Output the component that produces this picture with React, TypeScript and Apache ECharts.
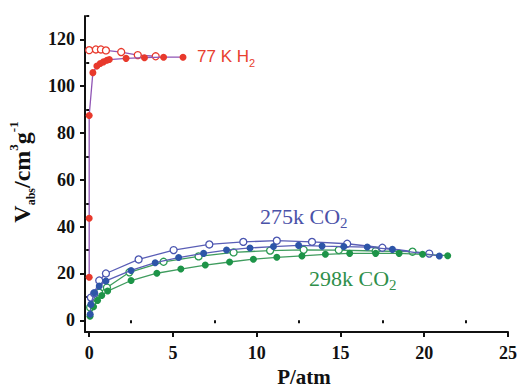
import React, { useEffect, useRef } from "react";
import * as echarts from "echarts";

// 77 K H2 adsorption (filled) / desorption (open)
const h2AdsX = [0, 0, 0, 0.22, 0.46, 0.66, 0.85, 1.06, 1.2, 2.2, 3.3, 4.44, 5.6];
const h2AdsY = [18.4, 43.6, 87.5, 105.8, 108.6, 109.7, 110.4, 111.1, 111.4, 111.9, 112.2, 112.4, 112.4];
const h2DesX = [0, 0.4, 0.7, 1.0, 1.91, 2.9, 3.97];
const h2DesY = [115.4, 115.7, 115.7, 115.3, 114.6, 113.3, 112.8];

// 275 K CO2
const c275AdsX = [0.06, 0.1, 0.3, 0.6, 1.0, 2.5, 3.94, 5.34, 6.83, 8.2, 9.6, 11.0, 12.5, 13.9, 15.2, 16.6, 18.1, 20.9];
const c275AdsY = [2.6, 6.8, 11.8, 14.6, 16.8, 21.3, 24.6, 26.8, 28.6, 30.0, 30.9, 31.5, 32.0, 31.7, 31.5, 31.3, 30.3, 27.5];
const c275DesX = [0.1, 0.3, 0.6, 1.0, 2.95, 5.04, 7.17, 9.2, 11.2, 13.3, 15.4, 17.5, 20.3];
const c275DesY = [9.7, 11.5, 17.0, 20.0, 26.0, 30.0, 32.4, 33.5, 34.0, 33.5, 32.7, 31.0, 28.5];

// 298 K CO2
const c298AdsX = [0.05, 0.26, 0.5, 0.75, 1.1, 2.5, 4.04, 5.47, 6.93, 8.38, 9.8, 11.2, 12.7, 14.1, 15.55, 17.1, 18.5, 19.9, 21.4];
const c298AdsY = [1.7, 5.8, 8.5, 10.6, 12.5, 17.0, 20.1, 21.9, 23.6, 24.9, 26.1, 26.9, 27.5, 28.2, 28.6, 28.6, 28.6, 28.2, 27.6];
const c298DesX = [0.06, 0.26, 0.6, 1.06, 2.4, 4.44, 6.53, 8.62, 10.8, 12.8, 14.9, 17.1, 19.3];
const c298DesY = [5.5, 9.7, 11.8, 14.0, 20.5, 25.0, 27.3, 29.0, 29.8, 30.1, 30.0, 29.6, 29.3];

const xMajor = [0, 5, 10, 15, 20, 25];
const xMinor = [2.5, 7.5, 12.5, 17.5, 22.5];
const yMajor = [0, 20, 40, 60, 80, 100, 120];
const yMinor = [10, 30, 50, 70, 90, 110, 130];

const zip = (xs: number[], ys: number[]) => xs.map((x, i) => [x, ys[i]]);

const SERIF = "'Liberation Serif', 'DejaVu Serif', serif";
const SANS = "'Liberation Sans', Arial, sans-serif";

function mkSeries(name: string, xs: number[], ys: number[], lineColor: string, markColor: string, filled: boolean, z: number) {
  return {
    name,
    type: "line",
    data: zip(xs, ys),
    symbol: "circle",
    symbolSize: 7,
    z,
    lineStyle: { color: lineColor, width: 1.3 },
    itemStyle: filled
      ? { color: markColor, borderColor: markColor, borderWidth: 0 }
      : { color: "#ffffff", borderColor: markColor, borderWidth: 1.3 },
  };
}

export default function App() {
  const ref = useRef<HTMLDivElement>(null);
  useEffect(() => {
    if (!ref.current) return;
    const chart = echarts.init(ref.current, undefined, { renderer: "svg" });
    const grid = { left: 85, right: 13, top: 16, bottom: 58, outerBoundsMode: "none" };
    const axisLine = { show: true, onZero: false, lineStyle: { color: "#111", width: 2 } };
    const option: any = {
      animation: false,
      backgroundColor: "#ffffff",
      grid,
      xAxis: [
        {
          type: "value",
          min: -0.25,
          max: 25,
          axisLine,
          axisTick: { show: true, customValues: xMajor, length: 5, lineStyle: { color: "#111", width: 2 } },
          axisLabel: {
            customValues: xMajor,
            margin: 12,
            fontFamily: SERIF,
            fontWeight: "bold",
            fontSize: 18,
            color: "#111",
          },
          splitLine: { show: false },
        },
        {
          type: "value",
          min: -0.25,
          max: 25,
          position: "bottom",
          axisLine: { show: false },
          axisTick: { show: true, customValues: xMinor, length: 3, lineStyle: { color: "#111", width: 2 } },
          axisLabel: { show: false },
          splitLine: { show: false },
        },
      ],
      yAxis: [
        {
          type: "value",
          min: -5,
          max: 130,
          axisLine,
          axisTick: { show: true, customValues: yMajor, length: 5, lineStyle: { color: "#111", width: 2 } },
          axisLabel: {
            customValues: yMajor,
            margin: 10,
            fontFamily: SERIF,
            fontWeight: "bold",
            fontSize: 18,
            color: "#111",
          },
          splitLine: { show: false },
        },
        {
          type: "value",
          min: -5,
          max: 130,
          position: "left",
          axisLine: { show: false },
          axisTick: { show: true, customValues: yMinor, length: 3, lineStyle: { color: "#111", width: 2 } },
          axisLabel: { show: false },
          splitLine: { show: false },
        },
      ],
      series: [
        mkSeries("298K CO2 ads", c298AdsX, c298AdsY, "#3f9c5e", "#1d9448", true, 3),
        mkSeries("298K CO2 des", c298DesX, c298DesY, "#3f9c5e", "#2a9a52", false, 2),
        mkSeries("275K CO2 ads", c275AdsX, c275AdsY, "#5a5eb6", "#2d55a8", true, 3),
        mkSeries("275K CO2 des", c275DesX, c275DesY, "#5a5eb6", "#4a55b0", false, 2),
        mkSeries("77K H2 des", h2DesX, h2DesY, "#9055b5", "#e8392c", false, 2),
        mkSeries("77K H2 ads", h2AdsX, h2AdsY, "#9055b5", "#e8392c", true, 3),
      ],
      graphic: [
        {
          type: "text",
          x: 22,
          y: 172,
          rotation: Math.PI / 2,
          style: {
            text: "{m|V}{s|abs}{m|/cm}{p|3}{m|g}{p|-1}",
            align: "center",
            verticalAlign: "middle",
            fill: "#111",
            rich: {
              m: { fontFamily: SERIF, fontWeight: "bold", fontSize: 24, lineHeight: 30, verticalAlign: "middle", fill: "#111" },
              s: { fontFamily: SERIF, fontWeight: "bold", fontSize: 12, lineHeight: 14, verticalAlign: "bottom", fill: "#111" },
              p: { fontFamily: SERIF, fontWeight: "bold", fontSize: 13, lineHeight: 14, verticalAlign: "top", fill: "#111" },
            },
          },
        },
        {
          type: "text",
          x: 304,
          y: 377,
          style: {
            text: "P/atm",
            align: "center",
            verticalAlign: "middle",
            fontFamily: SERIF,
            fontWeight: "bold",
            fontSize: 21,
            fill: "#111",
          },
        },
        {
          type: "text",
          x: 197,
          y: 56,
          style: {
            text: "{m|77 K H}{s|2}",
            align: "left",
            verticalAlign: "middle",
            rich: {
              m: { fontFamily: SANS, fontSize: 17, lineHeight: 24, verticalAlign: "middle", fill: "#e8402f" },
              s: { fontFamily: SANS, fontSize: 11, lineHeight: 12, verticalAlign: "bottom", fill: "#e8402f" },
            },
          },
        },
        {
          type: "text",
          x: 260,
          y: 216,
          style: {
            text: "{m|275k CO}{s|2}",
            align: "left",
            verticalAlign: "middle",
            rich: {
              m: { fontFamily: SERIF, fontSize: 22, lineHeight: 28, verticalAlign: "middle", fill: "#4b52a8" },
              s: { fontFamily: SERIF, fontSize: 15, lineHeight: 14, verticalAlign: "bottom", fill: "#4b52a8" },
            },
          },
        },
        {
          type: "text",
          x: 309,
          y: 278,
          style: {
            text: "{m|298k CO}{s|2}",
            align: "left",
            verticalAlign: "middle",
            rich: {
              m: { fontFamily: SERIF, fontSize: 22, lineHeight: 28, verticalAlign: "middle", fill: "#2f8f4a" },
              s: { fontFamily: SERIF, fontSize: 15, lineHeight: 14, verticalAlign: "bottom", fill: "#2f8f4a" },
            },
          },
        },
      ],
    };
    chart.setOption(option);
    return () => chart.dispose();
  }, []);
  return (
    <div
      ref={ref}
      style={{ position: "absolute", left: 0, top: 0, width: 521, height: 390 }}
    />
  );
}
